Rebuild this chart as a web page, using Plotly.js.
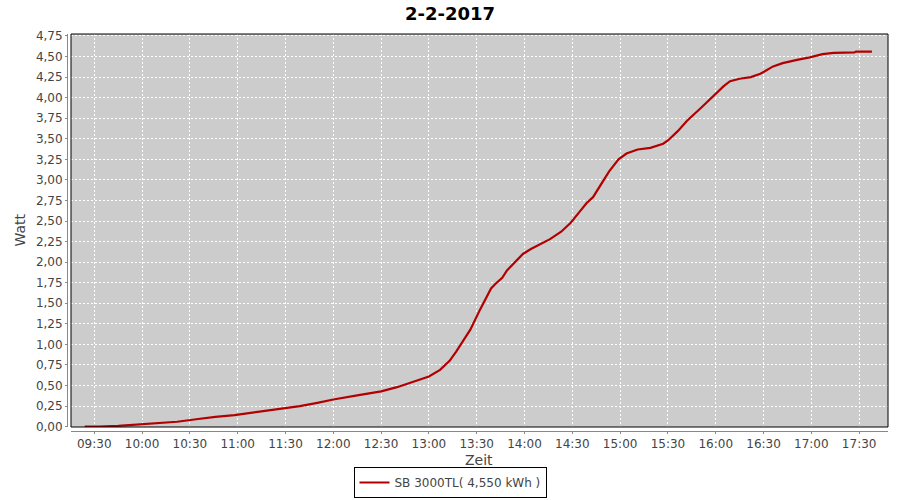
<!DOCTYPE html>
<html>
<head>
<meta charset="utf-8">
<script src="https://cdn.plot.ly/plotly-3.0.1.min.js"></script>
<style>
  html, body { margin: 0; padding: 0; background: #ffffff; }
  #chart { width: 900px; height: 500px; }
</style>
</head>
<body>
<div id="chart"></div>
<script>
// ---- data ----
const chartTitle = "2-2-2017";
const seriesName = "SB 3000TL( 4,550 kWh )";
const xTitle = "Zeit";
const yTitle = "Watt";

const times = [
  "09:24","09:33","09:45","09:50","10:00","10:11","10:22","10:34","10:46","10:58",
  "11:09","11:20","11:39","11:50","12:00","12:15","12:30","12:40","12:48","12:56",
  "13:00","13:07","13:13","13:17","13:22","13:26","13:32","13:36","13:39","13:42",
  "13:46","13:49","13:54","13:59","14:04","14:10","14:16","14:23","14:29","14:34",
  "14:39","14:43","14:47","14:53","14:59","15:04","15:11","15:19","15:27","15:30",
  "15:36","15:42","15:51","15:59","16:05","16:09","16:15","16:22","16:28","16:36",
  "16:42","16:51","16:59","17:07","17:14","17:27","17:28","17:38"
];
const energy = [
  0.00, 0.00, 0.01, 0.017, 0.025, 0.04, 0.06, 0.09, 0.12, 0.14,
  0.17, 0.20, 0.25, 0.29, 0.33, 0.38, 0.43, 0.48, 0.53, 0.58,
  0.61, 0.69, 0.80, 0.91, 1.06, 1.18, 1.42, 1.58, 1.68, 1.74,
  1.81, 1.90, 2.00, 2.10, 2.16, 2.22, 2.28, 2.37, 2.48, 2.60,
  2.72, 2.79, 2.91, 3.10, 3.25, 3.32, 3.37, 3.39, 3.44, 3.48,
  3.59, 3.72, 3.88, 4.03, 4.14, 4.20, 4.23, 4.25, 4.29, 4.38,
  4.42, 4.46, 4.49, 4.53, 4.545, 4.55, 4.56, 4.56
];
const day = "2017-02-02 ";
const xRange = ["2017-02-02 09:15:24", "2017-02-02 17:48:06"];
const yRange = [-0.004, 4.774];

// ---- layout geometry ----
const W = 900, H = 500;
const axisLineX = 67, plotLeft = 71, plotRight = 888;
const plotTop = 34, plotBottom = 427, axisLineY = 431;
const innerW = W - axisLineX - (W - plotRight);   // paper width
const innerH = axisLineY - plotTop;               // paper height
const xd0 = (plotLeft - axisLineX) / innerW;
const yd0 = (axisLineY - plotBottom) / innerH;
const font = "DejaVu Sans, Verdana, sans-serif";
const textGray = "#444444";
const axisGray = "#888888";

const trace = {
  type: "scatter",
  mode: "lines",
  x: times.map(t => day + t),
  y: energy,
  name: seriesName,
  line: { color: "#b20000", width: 2.2 },
  showlegend: true
};

const layout = {
  width: W, height: H,
  paper_bgcolor: "#ffffff",
  plot_bgcolor: "#cccccc",
  separators: ",.",
  margin: { l: axisLineX, r: W - plotRight, t: plotTop, b: H - axisLineY, pad: 0, autoexpand: false },
  title: {
    text: chartTitle,
    font: { family: font, size: 18, color: "#000000", weight: "bold" },
    x: 0.5, xref: "container", xanchor: "center",
    y: 1 - 14 / H, yref: "container", yanchor: "middle"
  },
  xaxis: {
    type: "date",
    domain: [xd0, 1],
    anchor: "free", position: 0,
    range: xRange,
    tick0: "2017-02-02 09:30", dtick: 1800000,
    tickformat: "%H:%M",
    ticks: "outside", ticklen: 2, tickcolor: axisGray, tickwidth: 1,
    showline: true, linecolor: axisGray, linewidth: 1,
    showgrid: true, gridcolor: "#ffffff", gridwidth: 1, griddash: "2px,2px",
    zeroline: false, automargin: false,
    tickfont: { family: font, size: 12, color: textGray },
    fixedrange: true
  },
  yaxis: {
    domain: [yd0, 1],
    anchor: "free", position: 0,
    range: yRange,
    tick0: 0, dtick: 0.25,
    tickformat: ".2f",
    ticks: "outside", ticklen: 2, tickcolor: axisGray, tickwidth: 1,
    showline: true, linecolor: axisGray, linewidth: 1,
    showgrid: true, gridcolor: "#ffffff", gridwidth: 1, griddash: "2px,2px",
    zeroline: false, automargin: false,
    tickfont: { family: font, size: 12, color: textGray },
    fixedrange: true
  },
  shapes: [{
    type: "rect", xref: "paper", yref: "paper",
    x0: xd0, x1: 1, y0: yd0, y1: 1,
    line: { color: "#000000", width: 1 },
    fillcolor: "rgba(0,0,0,0)", layer: "above"
  }],
  annotations: [
    {
      text: xTitle, xref: "paper", yref: "paper",
      x: (xd0 + 1) / 2, y: (axisLineY - 460) / innerH,
      xanchor: "center", yanchor: "middle", showarrow: false,
      font: { family: font, size: 14, color: textGray }
    },
    {
      text: yTitle, xref: "paper", yref: "paper",
      x: (20 - axisLineX) / innerW, y: (yd0 + 1) / 2,
      xanchor: "center", yanchor: "middle", showarrow: false, textangle: -90,
      font: { family: font, size: 14, color: textGray }
    }
  ],
  showlegend: true,
  legend: {
    orientation: "h",
    xref: "container", x: 0.5, xanchor: "center",
    yref: "container", y: 0.004, yanchor: "bottom",
    bgcolor: "#ffffff", bordercolor: "#000000", borderwidth: 1,
    font: { family: font, size: 12, color: textGray },
    itemwidth: 30
  }
};

Plotly.newPlot("chart", [trace], layout, { displayModeBar: false, staticPlot: true });
</script>
</body>
</html>
